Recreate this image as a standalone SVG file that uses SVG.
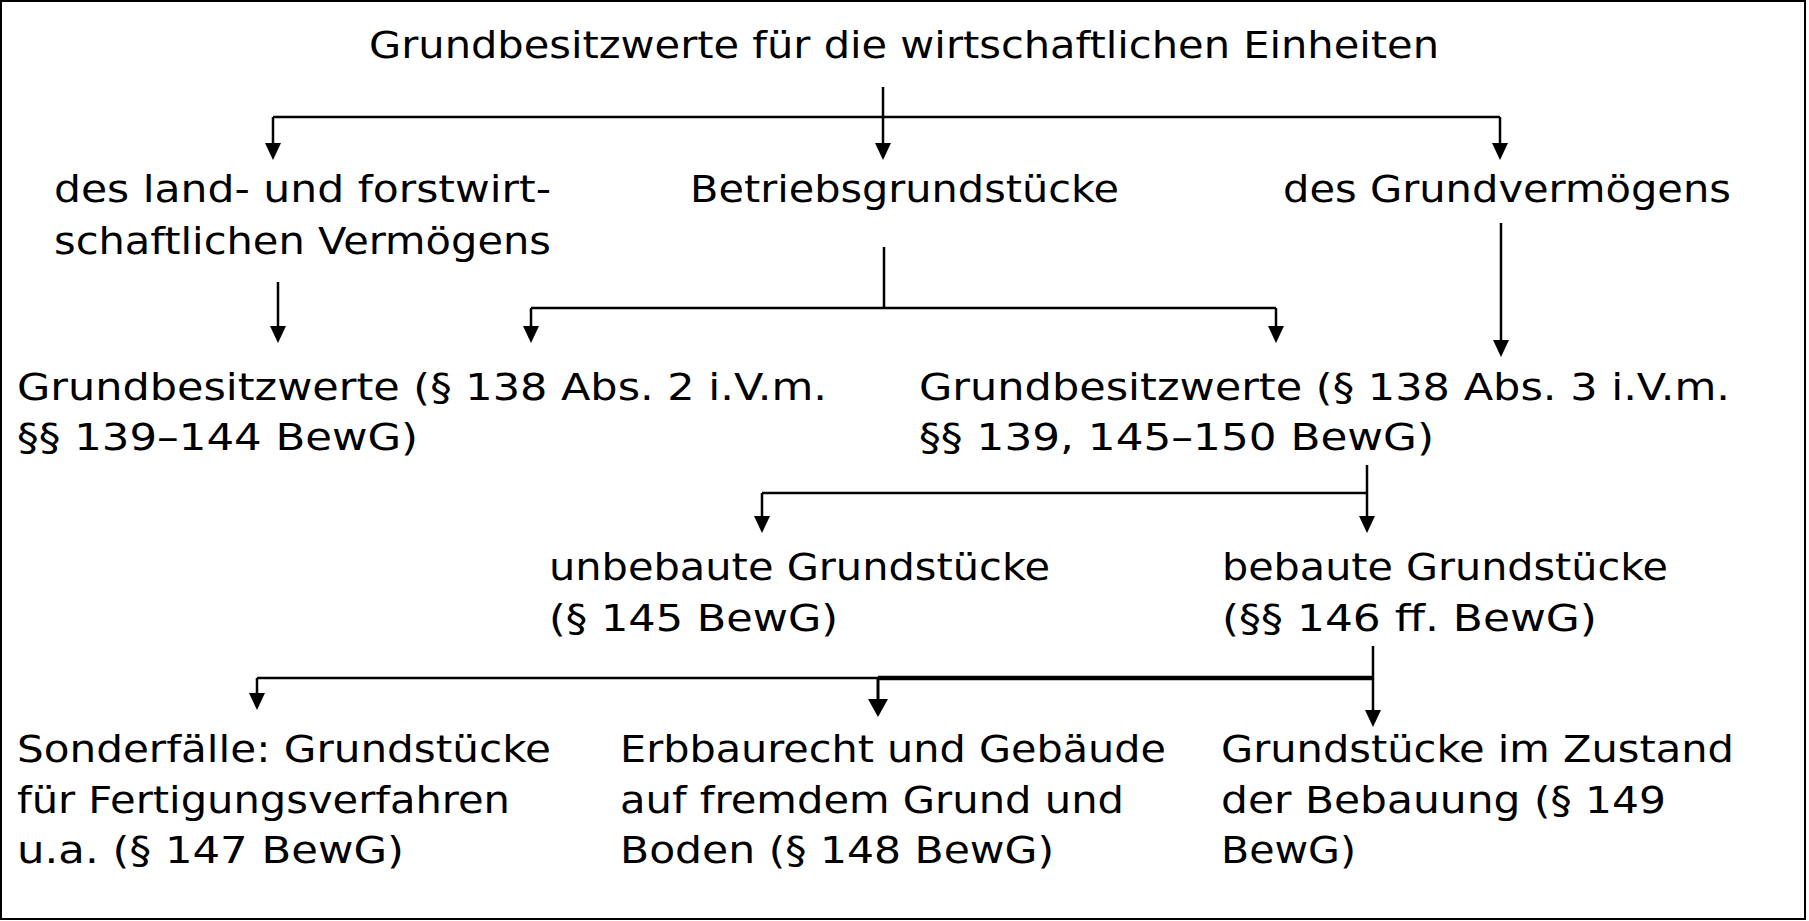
<svg xmlns="http://www.w3.org/2000/svg" width="1809" height="921" viewBox="0 0 1809 921">
<style>
text { font-family: "DejaVu Sans", Verdana, sans-serif; font-size: 38px; fill: #000; }
.ln { stroke: #000; stroke-width: 2.5; fill: none; }
</style>
<rect x="1" y="1" width="1804" height="918" fill="#fff" stroke="#000" stroke-width="2"/>
<g id="connectors">
<path d="M883,87 L883,145 M273,117 L1500,117 M273,117 L273,143 M1500,117 L1500,143" class="ln"/>
<polygon points="265,143 281,143 273,160" fill="#000"/>
<polygon points="875,143 891,143 883,160" fill="#000"/>
<polygon points="1492,143 1508,143 1500,160" fill="#000"/>
<path d="M278,282 L278,326" class="ln"/>
<polygon points="270,326 286,326 278,343" fill="#000"/>
<path d="M884,247 L884,308 M531,308 L1276,308 M531,308 L531,326 M1276,308 L1276,326" class="ln"/>
<polygon points="523,326 539,326 531,343" fill="#000"/>
<polygon points="1268,326 1284,326 1276,343" fill="#000"/>
<path d="M1501,223 L1501,340" class="ln"/>
<polygon points="1493,340 1509,340 1501,357" fill="#000"/>
<path d="M1367,465 L1367,516 M762,493 L1367,493 M762,493 L762,516" class="ln"/>
<polygon points="754,516 770,516 762,533" fill="#000"/>
<polygon points="1359,516 1375,516 1367,533" fill="#000"/>
<path d="M1373,646 L1373,710 M257,678 L878,678 M257,678 L257,693" class="ln"/>
<path d="M878,678 L1373,678" stroke="#000" stroke-width="4.5" fill="none"/>
<path d="M878,678 L878,699" stroke="#000" stroke-width="3" fill="none"/>
<polygon points="249,693 265,693 257,710" fill="#000"/>
<polygon points="868,699 888,699 878,717" fill="#000"/>
<polygon points="1365,710 1381,710 1373,727" fill="#000"/>
</g>
<g id="n-root"><text x="369" y="58" textLength="1070" lengthAdjust="spacingAndGlyphs">Grundbesitzwerte für die wirtschaftlichen Einheiten</text></g>
<g id="n-lf"><text x="54" y="202" textLength="497" lengthAdjust="spacingAndGlyphs">des land- und forstwirt-</text><text x="54" y="254" textLength="497" lengthAdjust="spacingAndGlyphs">schaftlichen Vermögens</text></g>
<g id="n-bg"><text x="690" y="202" textLength="429" lengthAdjust="spacingAndGlyphs">Betriebsgrundstücke</text></g>
<g id="n-gv"><text x="1283" y="202" textLength="448" lengthAdjust="spacingAndGlyphs">des Grundvermögens</text></g>
<g id="n-gw2"><text x="17" y="400" textLength="810" lengthAdjust="spacingAndGlyphs">Grundbesitzwerte (§ 138 Abs. 2 i.V.m.</text><text x="17" y="450" textLength="401" lengthAdjust="spacingAndGlyphs">§§ 139–144 BewG)</text></g>
<g id="n-gw3"><text x="919" y="400" textLength="811" lengthAdjust="spacingAndGlyphs">Grundbesitzwerte (§ 138 Abs. 3 i.V.m.</text><text x="919" y="450" textLength="515" lengthAdjust="spacingAndGlyphs">§§ 139, 145–150 BewG)</text></g>
<g id="n-ub"><text x="549" y="580" textLength="501" lengthAdjust="spacingAndGlyphs">unbebaute Grundstücke</text><text x="549" y="631" textLength="289" lengthAdjust="spacingAndGlyphs">(§ 145 BewG)</text></g>
<g id="n-bb"><text x="1222" y="580" textLength="446" lengthAdjust="spacingAndGlyphs">bebaute Grundstücke</text><text x="1222" y="631" textLength="375" lengthAdjust="spacingAndGlyphs">(§§ 146 ff. BewG)</text></g>
<g id="n-sf"><text x="17" y="762" textLength="534" lengthAdjust="spacingAndGlyphs">Sonderfälle: Grundstücke</text><text x="17" y="813" textLength="493" lengthAdjust="spacingAndGlyphs">für Fertigungsverfahren</text><text x="17" y="863" textLength="387" lengthAdjust="spacingAndGlyphs">u.a. (§ 147 BewG)</text></g>
<g id="n-eb"><text x="620" y="762" textLength="546" lengthAdjust="spacingAndGlyphs">Erbbaurecht und Gebäude</text><text x="620" y="813" textLength="504" lengthAdjust="spacingAndGlyphs">auf fremdem Grund und</text><text x="620" y="863" textLength="434" lengthAdjust="spacingAndGlyphs">Boden (§ 148 BewG)</text></g>
<g id="n-zb"><text x="1221" y="762" textLength="513" lengthAdjust="spacingAndGlyphs">Grundstücke im Zustand</text><text x="1221" y="813" textLength="445" lengthAdjust="spacingAndGlyphs">der Bebauung (§ 149</text><text x="1221" y="863" textLength="135" lengthAdjust="spacingAndGlyphs">BewG)</text></g>
</svg>
